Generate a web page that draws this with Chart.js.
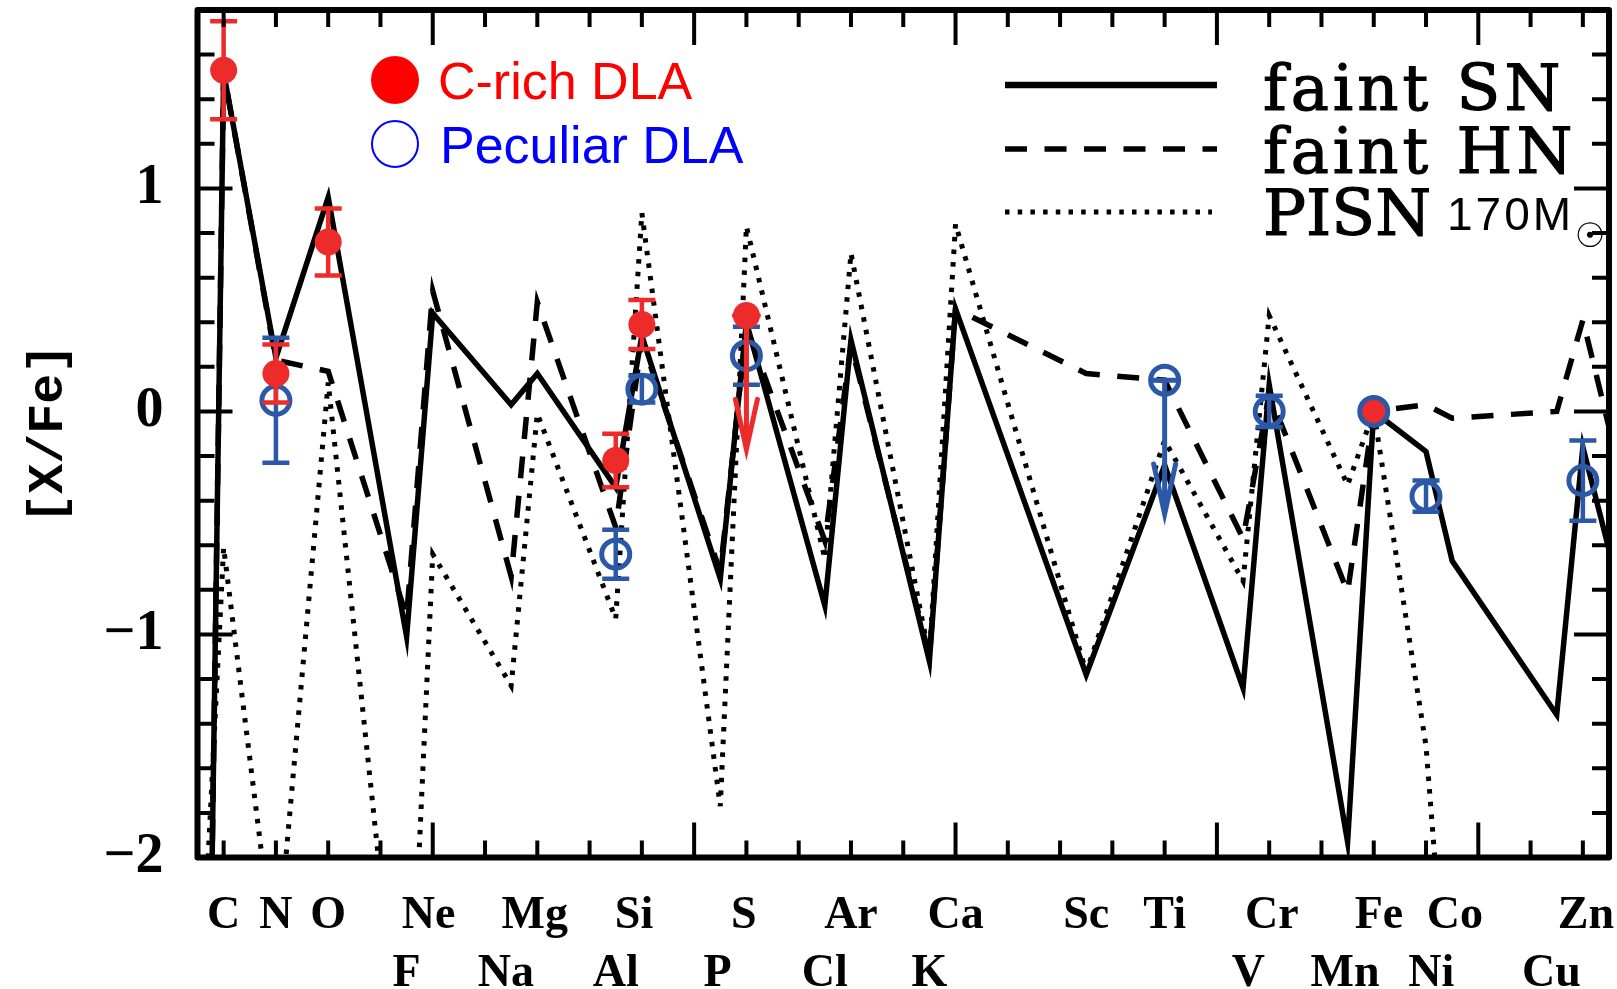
<!DOCTYPE html>
<html><head><meta charset="utf-8">
<script src="https://cdn.jsdelivr.net/npm/chart.js@4.4.1/dist/chart.umd.min.js"></script>
<style>html,body{margin:0;padding:0;background:#fff;overflow:hidden}canvas{display:block}</style>
</head><body>
<canvas id="c" width="1617" height="989" style="width:1617px;height:989px"></canvas>
<script>
// ---- model yields (x = plotting position of each element) ----
const modelX  = [5, 6, 7, 8, 9.5, 10, 11.5, 12, 13.5, 14, 15.5, 16, 17.5, 18, 19.5, 20, 22.5, 24, 25.5, 26, 27.5, 28, 29, 29.5, 31.5, 32, 33];
const faintSN = [-14.5, 1.52, 0.24, 0.96, -1.01, 0.44, 0.03, 0.17, -0.34, 0.34, -0.75, 0.40, -0.87, 0.32, -1.12, 0.46, -1.18, -0.24, -1.24, 0.12, -1.93, 0.00, -0.18, -0.67, -1.36, -0.16, -1.08];
const faintHN = [-14.5, 1.52, 0.23, 0.18, -0.92, 0.54, -0.74, 0.49, -0.52, 0.32, -0.72, 0.38, -0.58, 0.30, -1.10, 0.46, 0.17, 0.14, -0.57, 0.08, -0.81, 0.00, 0.03, -0.03, 0.00, 0.41, -0.55];
const pisn170 = [-5.3, -0.61, -2.5, 0.13, -3.2, -0.64, -1.23, -0.01, -0.93, 0.89, -1.77, 0.83, -0.66, 0.71, -1.10, 0.84, -1.17, -0.13, -0.76, 0.43, -0.33, 0.00, -1.5, -3.0, -3.5, -3.2, -3.5];

// ---- C-rich DLA ----
const crichX   = [6, 7, 8, 13.5, 14, 28];
const crichY   = [1.53, 0.17, 0.76, -0.22, 0.39, 0.00];
const crichErr = [0.22, 0.13, 0.15, 0.12, 0.11, 0];
const crichLimX = [16];
const crichLimY = [0.43];

// ---- Peculiar DLA ----
const pecX   = [7, 13.5, 14, 16, 26, 28, 29, 32];
const pecY   = [0.05, -0.64, 0.10, 0.25, 0.00, 0.00, -0.38, -0.31];
const pecErr = [0.28, 0.11, 0.06, 0.13, 0.07, 0, 0.07, 0.18];
const pecLimX = [24];
const pecLimY = [0.14];
const limitArrowDex = 0.6;

// ---- axis labels ----
const elemNames = ['C','N','O','F','Ne','Na','Mg','Al','Si','P','S','Cl','Ar','K','Ca','Sc','Ti','V','Cr','Mn','Fe','Ni','Co','Cu','Zn'];
const elemPos   = [6, 7, 8, 9.5, 9.92, 11.4, 11.95, 13.5, 13.85, 15.45, 15.95, 17.5, 18, 19.5, 20, 22.5, 24, 25.6, 26.05, 27.45, 28.1, 29.1, 29.55, 31.4, 32.06];
const elemRow   = [0, 0, 0, 1, 0, 1, 0, 1, 0, 1, 0, 1, 0, 1, 0, 0, 0, 1, 0, 1, 0, 1, 0, 1, 0];
const yTickVals = [-2, -1, 0, 1];
const xRange = [5.5, 32.5];
const yRange = [-2, 1.8];

const RED = '#ED2B2B', BLUE = '#2B59A8';
const pts = (xs, ys) => xs.map((x, i) => ({x, y: ys[i]}));

function drawErrBars(ctx, xs, ys, errs, sx, sy, color) {
  ctx.save(); ctx.strokeStyle = color; ctx.lineWidth = 4.5; ctx.lineCap = 'butt';
  xs.forEach((xv, i) => {
    if (!errs[i]) return;
    const px = sx.getPixelForValue(xv);
    const t = sy.getPixelForValue(ys[i] + errs[i]);
    const b = sy.getPixelForValue(ys[i] - errs[i]);
    ctx.beginPath();
    ctx.moveTo(px, t); ctx.lineTo(px, b);
    ctx.moveTo(px - 13.5, t); ctx.lineTo(px + 13.5, t);
    ctx.moveTo(px - 13.5, b); ctx.lineTo(px + 13.5, b);
    ctx.stroke();
  });
  ctx.restore();
}
function drawLimits(ctx, xs, ys, sx, sy, color) {
  ctx.save(); ctx.strokeStyle = color; ctx.lineWidth = 5; ctx.lineCap = 'round'; ctx.lineJoin = 'miter';
  xs.forEach((xv, i) => {
    const px = sx.getPixelForValue(xv);
    const p0 = sy.getPixelForValue(ys[i]);
    const tip = sy.getPixelForValue(ys[i] - limitArrowDex);
    ctx.beginPath();
    ctx.moveTo(px - 12, p0); ctx.lineTo(px + 12, p0);
    ctx.moveTo(px, p0); ctx.lineTo(px, tip);
    ctx.moveTo(px - 11, tip - 50); ctx.lineTo(px, tip); ctx.lineTo(px + 11, tip - 50);
    ctx.stroke();
  });
  ctx.restore();
}

const errPlugin = {
  id: 'errbars',
  afterDatasetDraw(chart, args) {
    const {ctx, scales: {x, y}} = chart;
    const id = chart.data.datasets[args.index].id;
    if (id === 'pec') { drawErrBars(ctx, pecX, pecY, pecErr, x, y, BLUE); drawLimits(ctx, pecLimX, pecLimY, x, y, BLUE); }
    if (id === 'crich') { drawErrBars(ctx, crichX, crichY, crichErr, x, y, RED); drawLimits(ctx, crichLimX, crichLimY, x, y, RED); }
  }
};

const framePlugin = {
  id: 'frame',
  afterDraw(chart) {
    const {ctx, chartArea: a, scales: {x, y}} = chart;
    ctx.save();
    ctx.strokeStyle = '#000'; ctx.lineCap = 'butt'; ctx.lineWidth = 4;
    ctx.beginPath();
    for (let v = 6; v <= 32; v++) {
      const px = x.getPixelForValue(v), len = v % 5 === 0 ? 35 : 17;
      ctx.moveTo(px, a.bottom); ctx.lineTo(px, a.bottom - len);
      ctx.moveTo(px, a.top); ctx.lineTo(px, a.top + len);
    }
    for (let k = 1; k < 19; k++) {
      const py = y.getPixelForValue(-2 + k * 0.2), len = k % 5 === 0 ? 35 : 17;
      ctx.moveTo(a.left, py); ctx.lineTo(a.left + len, py);
      ctx.moveTo(a.right, py); ctx.lineTo(a.right - len, py);
    }
    ctx.stroke();
    ctx.lineWidth = 6; ctx.lineJoin = 'round';
    ctx.strokeRect(a.left, a.top, a.right - a.left, a.bottom - a.top);
    ctx.restore();
  }
};

const legendPlugin = {
  id: 'customLegend',
  afterDraw(chart) {
    const ctx = chart.ctx;
    ctx.save();
    ctx.fillStyle = '#FF0000';
    ctx.beginPath(); ctx.arc(395, 80, 24, 0, Math.PI * 2); ctx.fill();
    ctx.strokeStyle = '#0000FF'; ctx.lineWidth = 2;
    ctx.beginPath(); ctx.arc(395, 144, 23, 0, Math.PI * 2); ctx.stroke();
    ctx.textBaseline = 'alphabetic'; ctx.textAlign = 'left';
    ctx.font = '52px "Liberation Sans", Arial, sans-serif';
    ctx.fillStyle = '#FF0000'; ctx.fillText('C-rich DLA', 438, 99);
    ctx.fillStyle = '#0000FF'; ctx.fillText('Peculiar DLA', 440, 163);
    ctx.strokeStyle = '#000'; ctx.lineCap = 'butt';
    ctx.lineWidth = 6.5; ctx.setLineDash([]);
    ctx.beginPath(); ctx.moveTo(1005, 85); ctx.lineTo(1217, 85); ctx.stroke();
    ctx.lineWidth = 5.5; ctx.setLineDash([22, 17.5]);
    ctx.beginPath(); ctx.moveTo(1005, 149); ctx.lineTo(1217, 149); ctx.stroke();
    ctx.lineWidth = 5; ctx.setLineDash([4.5, 8.2]);
    ctx.beginPath(); ctx.moveTo(1005, 212); ctx.lineTo(1212, 212); ctx.stroke();
    ctx.setLineDash([]);
    ctx.fillStyle = '#000'; ctx.strokeStyle = '#000'; ctx.lineWidth = 1.2;
    ctx.font = '64px "DejaVu Serif", serif';
    try { ctx.letterSpacing = '4px'; } catch (e) {}
    ctx.fillText('faint SN', 1263, 110); ctx.strokeText('faint SN', 1263, 110);
    ctx.fillText('faint HN', 1263, 173); ctx.strokeText('faint HN', 1263, 173);
    try { ctx.letterSpacing = '0px'; } catch (e) {}
    ctx.fillText('PISN', 1263, 235); ctx.strokeText('PISN', 1263, 235);
    try { ctx.letterSpacing = '3px'; } catch (e) {}
    ctx.font = '46px "Liberation Sans", Arial, sans-serif';
    ctx.fillText('170M', 1447, 230);
    try { ctx.letterSpacing = '0px'; } catch (e) {}
    ctx.font = '34px "DejaVu Sans", sans-serif';
    ctx.textAlign = 'center'; ctx.textBaseline = 'middle';
    ctx.fillText('\u2609', 1590, 238);
    ctx.restore();
  }
};

const lineDs = (label, ys, dash, width, order) => ({
  type: 'line', label, data: pts(modelX, ys), borderColor: '#000', borderWidth: width,
  borderDash: dash, borderCapStyle: 'butt', borderJoinStyle: 'miter', pointRadius: 0,
  tension: 0, fill: false, order
});

new Chart(document.getElementById('c'), {
  data: {
    datasets: [
      {
        id: 'crich', type: 'scatter', label: 'C-rich DLA', order: 0,
        data: pts(crichX.concat(crichLimX), crichY.concat(crichLimY)),
        backgroundColor: RED, pointRadius: 13.5, pointHoverRadius: 13.5,
        pointBorderColor: crichX.concat(crichLimX).map(v => v === 28 ? BLUE : RED),
        pointBorderWidth: crichX.concat(crichLimX).map(v => v === 28 ? 4 : 0)
      },
      {
        id: 'pec', type: 'scatter', label: 'Peculiar DLA', order: 1,
        data: pts(pecX.concat(pecLimX), pecY.concat(pecLimY)),
        backgroundColor: 'rgba(0,0,0,0)', pointBackgroundColor: 'rgba(0,0,0,0)',
        borderColor: BLUE, pointBorderColor: BLUE, borderWidth: 5, pointBorderWidth: 5,
        pointRadius: 14, pointHoverRadius: 14
      },
      lineDs('faint SN', faintSN, [], 5.5, 2),
      lineDs('faint HN', faintHN, [22, 17.5], 5.5, 3),
      lineDs('PISN 170M', pisn170, [4.5, 8.2], 5, 4)
    ]
  },
  options: {
    responsive: false, animation: false, devicePixelRatio: 1,
    layout: { autoPadding: false, padding: { left: 0, top: 10, right: 8, bottom: 0 } },
    plugins: { legend: { display: false }, tooltip: { enabled: false } },
    scales: {
      x: {
        type: 'linear', min: xRange[0], max: xRange[1],
        grid: { display: false, drawTicks: false }, border: { display: false },
        afterBuildTicks: s => { s.ticks = elemPos.map(v => ({ value: v })); },
        afterFit: s => { s.height = 131.5; s.paddingLeft = 0; s.paddingRight = 0; },
        ticks: {
          autoSkip: false, maxRotation: 0, minRotation: 0, padding: 29, color: '#000',
          font: { family: '"Liberation Serif", serif', weight: 'bold', size: 46, lineHeight: 1.27 },
          callback: (v, i) => elemRow[i] === 1 ? ['', elemNames[i]] : elemNames[i]
        }
      },
      y: {
        type: 'linear', min: yRange[0], max: yRange[1],
        grid: { display: false, drawTicks: false }, border: { display: false },
        afterBuildTicks: s => { s.ticks = yTickVals.map(v => ({ value: v })); },
        afterFit: s => { s.width = 197.5; s.paddingTop = 0; s.paddingBottom = 0; },
        ticks: {
          padding: 34, color: '#000',
          font: { family: '"Liberation Serif", serif', weight: 'bold', size: 56 },
          callback: v => v < 0 ? '\u2212' + Math.abs(v) : String(v)
        },
        title: {
          display: true, text: '[X/Fe]', color: '#000', padding: { top: 19, bottom: 0 },
          font: { family: '"Liberation Mono", monospace', weight: 'bold', size: 50, lineHeight: 1.2 }
        }
      }
    }
  },
  plugins: [errPlugin, framePlugin, legendPlugin]
});
</script>
</body></html>
